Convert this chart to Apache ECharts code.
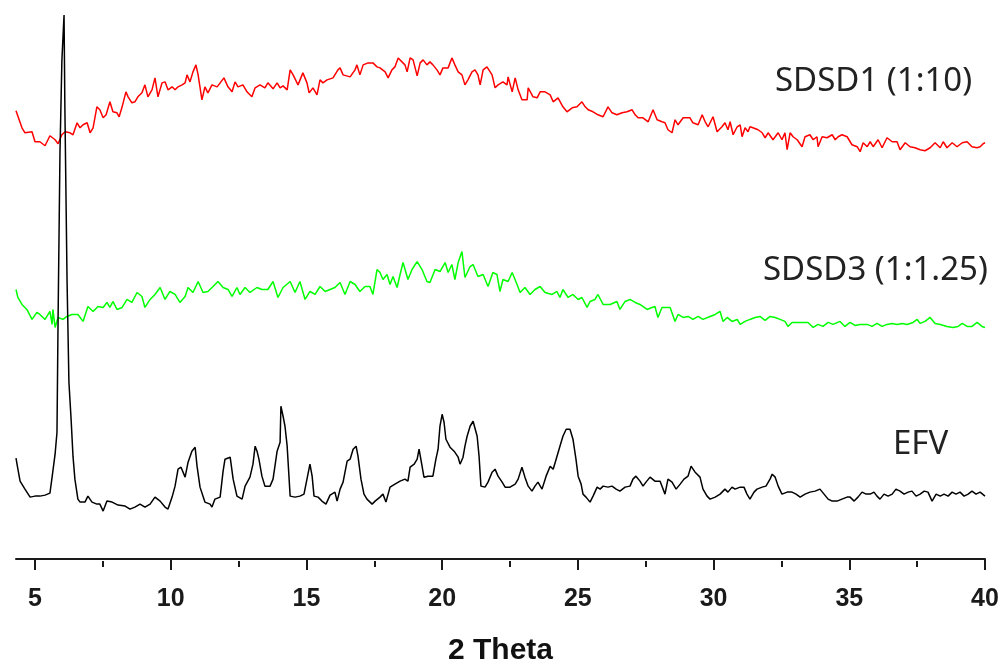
<!DOCTYPE html>
<html>
<head>
<meta charset="utf-8">
<script src="https://cdn.jsdelivr.net/npm/echarts@6/dist/echarts.min.js"></script>
<style>
html,body{margin:0;padding:0;background:#fff;}
#chart{width:1008px;height:671px;}
</style>
</head>
<body>
<div id="chart"></div>
<script>
// 2θ (degrees) and intensity (a.u., patterns offset-stacked as in the figure)
const efvData = [[4.30,101],[4.37,90],[4.45,78],[4.63,70],[4.82,62],[5.00,63],[5.18,63],[5.37,64],[5.55,66],[5.63,82],[5.74,105],[5.81,127],[5.85,240],[5.92,407],[5.99,499],[6.07,545],[6.10,454],[6.18,280],[6.25,177],[6.33,140],[6.40,103],[6.47,80],[6.58,60],[6.66,57],[6.84,57],[6.95,63],[7.10,57],[7.28,55],[7.39,55],[7.51,48],[7.65,58],[7.84,57],[8.06,54],[8.32,53],[8.50,50],[8.68,52],[8.87,55],[9.05,52],[9.24,55],[9.42,62],[9.61,58],[9.79,52],[9.90,50],[10.05,62],[10.16,73],[10.27,90],[10.38,92],[10.53,82],[10.64,97],[10.78,108],[10.90,112],[10.97,93],[11.08,72],[11.26,57],[11.45,55],[11.52,52],[11.63,60],[11.82,62],[11.93,88],[12.00,100],[12.19,102],[12.30,80],[12.44,63],[12.63,60],[12.74,73],[12.92,82],[13.03,95],[13.11,113],[13.18,108],[13.25,100],[13.36,83],[13.47,73],[13.66,73],[13.77,80],[13.84,93],[13.92,108],[14.03,117],[14.06,153],[14.14,143],[14.21,133],[14.29,113],[14.40,63],[14.58,62],[14.76,63],[14.91,65],[15.02,80],[15.13,95],[15.21,83],[15.28,63],[15.43,62],[15.57,58],[15.72,55],[15.87,64],[16.05,67],[16.13,58],[16.24,70],[16.35,77],[16.50,98],[16.61,100],[16.72,110],[16.83,113],[16.90,103],[17.01,80],[17.12,65],[17.23,60],[17.42,55],[17.53,58],[17.71,62],[17.82,65],[17.93,57],[18.08,72],[18.26,75],[18.45,78],[18.63,80],[18.74,78],[18.82,92],[18.97,95],[19.08,100],[19.15,110],[19.26,93],[19.33,82],[19.48,83],[19.66,83],[19.77,100],[19.85,110],[19.92,133],[20.00,145],[20.07,137],[20.14,120],[20.29,112],[20.44,108],[20.59,102],[20.66,95],[20.77,102],[20.84,113],[20.92,123],[21.03,133],[21.14,138],[21.21,138],[21.29,123],[21.36,103],[21.43,73],[21.58,72],[21.69,77],[21.84,87],[21.95,90],[22.06,83],[22.21,77],[22.32,72],[22.50,72],[22.69,75],[22.80,80],[22.94,92],[23.05,82],[23.17,73],[23.31,68],[23.42,73],[23.53,77],[23.68,70],[23.83,83],[23.98,93],[24.09,90],[24.20,100],[24.34,113],[24.45,123],[24.57,130],[24.71,130],[24.82,120],[24.93,100],[25.01,83],[25.12,75],[25.19,65],[25.30,62],[25.45,57],[25.56,63],[25.71,72],[25.82,70],[25.93,73],[26.11,72],[26.26,73],[26.41,70],[26.55,68],[26.74,72],[26.92,73],[27.03,80],[27.14,83],[27.29,78],[27.40,73],[27.51,77],[27.66,82],[27.84,78],[28.03,78],[28.21,65],[28.32,80],[28.47,77],[28.62,70],[28.77,75],[28.91,80],[29.06,83],[29.17,93],[29.32,87],[29.50,82],[29.61,70],[29.76,63],[29.87,60],[30.06,62],[30.24,65],[30.42,70],[30.53,67],[30.68,72],[30.79,70],[30.98,72],[31.12,72],[31.23,65],[31.34,60],[31.49,67],[31.60,70],[31.79,72],[31.93,73],[32.08,80],[32.16,85],[32.27,82],[32.38,73],[32.52,65],[32.71,67],[32.89,67],[33.04,65],[33.19,62],[33.37,65],[33.55,67],[33.74,68],[33.92,70],[34.07,65],[34.22,60],[34.37,58],[34.55,58],[34.73,60],[34.92,62],[35.03,62],[35.18,58],[35.32,62],[35.47,67],[35.62,65],[35.77,65],[35.91,67],[36.02,63],[36.13,60],[36.28,65],[36.43,63],[36.58,65],[36.72,70],[36.87,68],[37.02,65],[37.17,67],[37.31,68],[37.46,63],[37.61,65],[37.76,68],[37.90,67],[38.05,58],[38.20,65],[38.35,63],[38.49,65],[38.64,63],[38.79,67],[38.93,65],[39.08,67],[39.23,63],[39.38,65],[39.52,68],[39.67,65],[39.82,67],[40.00,63]];

const sdsd3Data = [[4.30,270],[4.37,262],[4.52,255],[4.70,250],[4.89,240],[5.07,247],[5.18,245],[5.37,240],[5.55,248],[5.63,235],[5.66,250],[5.74,232],[5.85,242],[6.03,240],[6.18,243],[6.36,245],[6.58,245],[6.77,238],[6.95,253],[7.14,248],[7.32,253],[7.51,252],[7.65,257],[7.76,252],[7.87,258],[8.02,250],[8.21,252],[8.39,260],[8.57,257],[8.76,267],[8.94,263],[9.05,252],[9.24,260],[9.42,265],[9.61,272],[9.79,260],[9.97,268],[10.16,265],[10.34,257],[10.53,263],[10.64,272],[10.82,267],[11.01,278],[11.19,267],[11.37,268],[11.56,273],[11.74,278],[11.93,272],[12.11,270],[12.26,263],[12.44,272],[12.55,265],[12.74,272],[12.92,267],[13.18,272],[13.36,270],[13.58,270],[13.77,278],[13.95,262],[14.14,272],[14.40,278],[14.58,267],[14.76,278],[14.95,260],[15.13,268],[15.32,265],[15.50,273],[15.69,268],[15.87,270],[16.05,272],[16.24,277],[16.42,265],[16.61,278],[16.79,275],[16.97,268],[17.16,273],[17.34,273],[17.45,265],[17.60,290],[17.71,287],[17.82,280],[17.97,285],[18.08,275],[18.19,283],[18.34,272],[18.45,285],[18.56,297],[18.74,280],[18.89,290],[19.08,298],[19.26,290],[19.44,278],[19.55,277],[19.74,290],[19.92,288],[20.11,297],[20.22,287],[20.36,295],[20.47,280],[20.59,297],[20.73,308],[20.77,310],[20.84,282],[21.03,293],[21.14,295],[21.32,283],[21.51,285],[21.69,273],[21.87,287],[22.02,285],[22.13,268],[22.24,280],[22.43,278],[22.58,287],[22.76,275],[22.87,267],[23.05,272],[23.24,265],[23.42,270],[23.61,273],[23.79,267],[24.05,265],[24.23,268],[24.34,262],[24.45,270],[24.64,262],[24.82,265],[25.01,260],[25.15,262],[25.34,252],[25.45,258],[25.63,260],[25.74,265],[25.93,255],[26.19,255],[26.44,258],[26.55,250],[26.74,258],[26.92,260],[27.11,257],[27.29,255],[27.55,250],[27.73,252],[27.84,253],[27.95,242],[28.10,252],[28.29,252],[28.40,252],[28.58,238],[28.69,245],[28.88,242],[29.06,243],[29.24,240],[29.43,243],[29.61,240],[29.87,243],[30.06,245],[30.24,248],[30.35,238],[30.50,242],[30.68,238],[30.87,240],[30.98,235],[31.16,238],[31.34,240],[31.53,242],[31.71,243],[31.90,239],[32.08,243],[32.27,242],[32.45,240],[32.63,238],[32.74,233],[32.89,237],[33.08,237],[33.30,237],[33.48,237],[33.67,232],[33.85,235],[34.03,233],[34.22,237],[34.40,235],[34.66,238],[34.84,233],[35.03,237],[35.21,234],[35.40,235],[35.66,235],[35.84,233],[36.02,236],[36.21,233],[36.39,235],[36.58,236],[36.76,235],[36.95,236],[37.13,235],[37.35,237],[37.50,240],[37.61,236],[37.79,238],[37.98,242],[38.16,236],[38.35,235],[38.60,233],[38.82,232],[39.01,233],[39.16,236],[39.34,233],[39.52,233],[39.71,237],[39.89,233],[40.00,232]];

const sdsd1Data = [[4.30,449],[4.37,447],[4.52,432],[4.63,427],[4.89,428],[5.00,418],[5.18,418],[5.37,414],[5.55,424],[5.74,420],[5.85,416],[5.99,425],[6.11,428],[6.29,427],[6.40,425],[6.55,437],[6.66,432],[6.77,435],[6.92,437],[7.03,427],[7.14,432],[7.28,453],[7.39,450],[7.51,442],[7.62,445],[7.76,458],[7.87,448],[8.02,447],[8.10,443],[8.21,453],[8.35,468],[8.43,463],[8.57,457],[8.68,458],[8.79,463],[8.94,467],[9.05,475],[9.16,463],[9.31,470],[9.42,482],[9.53,463],[9.68,477],[9.79,478],[9.90,470],[10.05,473],[10.16,470],[10.27,473],[10.42,475],[10.53,477],[10.60,485],[10.71,478],[10.82,488],[10.93,495],[11.01,485],[11.15,460],[11.26,473],[11.37,467],[11.52,475],[11.71,473],[11.96,482],[12.11,473],[12.26,468],[12.37,478],[12.48,473],[12.66,475],[12.81,468],[12.99,463],[13.11,472],[13.29,475],[13.47,472],[13.58,477],[13.77,471],[13.92,477],[14.03,472],[14.14,474],[14.29,470],[14.40,490],[14.51,485],[14.69,475],[14.87,487],[15.02,477],[15.10,467],[15.24,472],[15.39,465],[15.50,480],[15.61,477],[15.76,480],[15.98,482],[16.16,490],[16.24,492],[16.35,485],[16.61,483],[16.79,490],[16.86,495],[16.97,485],[17.09,495],[17.27,497],[17.45,497],[17.60,493],[17.71,492],[17.90,488],[18.01,482],[18.15,490],[18.26,493],[18.38,502],[18.52,498],[18.63,495],[18.71,488],[18.82,502],[18.93,500],[19.08,484],[19.19,497],[19.30,500],[19.44,495],[19.55,498],[19.66,495],[19.81,490],[19.92,485],[20.03,492],[20.22,492],[20.36,502],[20.47,495],[20.59,488],[20.73,485],[20.84,475],[20.95,480],[21.10,488],[21.21,490],[21.32,485],[21.40,475],[21.51,490],[21.65,493],[21.84,485],[21.95,472],[22.06,475],[22.24,478],[22.39,475],[22.43,483],[22.58,468],[22.69,482],[22.80,470],[22.94,460],[23.13,460],[23.17,472],[23.35,463],[23.50,462],[23.61,468],[23.79,468],[23.98,465],[24.09,458],[24.27,462],[24.45,453],[24.60,448],[24.79,452],[24.97,453],[25.15,458],[25.27,453],[25.38,450],[25.56,448],[25.74,445],[25.93,443],[26.11,453],[26.26,447],[26.44,445],[26.63,447],[26.81,448],[27.00,450],[27.11,445],[27.22,442],[27.40,442],[27.59,438],[27.77,450],[27.92,440],[28.10,438],[28.21,437],[28.32,430],[28.47,427],[28.58,440],[28.69,435],[28.88,442],[29.13,442],[29.24,437],[29.43,435],[29.58,445],[29.69,438],[29.80,433],[29.98,443],[30.13,428],[30.31,433],[30.42,437],[30.53,430],[30.61,438],[30.72,425],[30.87,433],[30.98,435],[31.05,423],[31.16,432],[31.27,428],[31.34,433],[31.45,432],[31.64,430],[31.79,427],[31.90,422],[32.01,427],[32.19,420],[32.38,427],[32.52,420],[32.63,427],[32.71,410],[32.82,427],[32.93,423],[33.08,420],[33.26,413],[33.37,423],[33.55,425],[33.67,420],[33.81,423],[33.85,413],[34.00,423],[34.18,422],[34.37,425],[34.48,420],[34.59,423],[34.73,425],[34.92,423],[35.10,415],[35.29,413],[35.40,408],[35.51,417],[35.66,413],[35.77,418],[35.88,413],[36.06,420],[36.21,412],[36.39,422],[36.58,418],[36.76,418],[36.87,410],[37.06,417],[37.24,413],[37.42,412],[37.61,410],[37.79,409],[37.98,412],[38.16,417],[38.35,412],[38.46,418],[38.60,412],[38.79,417],[38.97,413],[39.16,417],[39.34,418],[39.52,413],[39.71,412],[39.82,413],[39.93,416],[40.00,417]];

const majorTicks = [5, 10, 15, 20, 25, 30, 35, 40];
const minorTicks = [7.5, 12.5, 17.5, 22.5, 27.5, 32.5, 37.5];
const seriesNames = ['SDSD1 (1:10)', 'SDSD3 (1:1.25)', 'EFV'];
const xTitle = '2 Theta';

const chart = echarts.init(document.getElementById('chart'), null, {renderer: 'canvas'});
const axisColor = '#1a1a1a';
const labelFont = '33px "Noto Sans"';

chart.setOption({
  animation: false,
  backgroundColor: '#ffffff',
  grid: {left: 16, right: 23, top: 0, bottom: 109, containLabel: false},
  xAxis: [{
    type: 'value', min: 4.3, max: 40, position: 'bottom',
    axisLine: {lineStyle: {color: axisColor, width: 2}},
    axisTick: {customValues: majorTicks, length: 11, lineStyle: {color: axisColor, width: 2}},
    axisLabel: {customValues: majorTicks, margin: 26, fontSize: 25, fontWeight: 'bold', color: axisColor, fontFamily: 'Liberation Sans'},
    splitLine: {show: false},
    name: xTitle, nameLocation: 'middle', nameGap: 75,
    nameTextStyle: {fontSize: 30, fontWeight: 'bold', color: '#111', fontFamily: 'Liberation Sans'}
  }, {
    type: 'value', min: 4.3, max: 40, position: 'bottom',
    axisLine: {show: false},
    axisTick: {customValues: minorTicks, length: 6, lineStyle: {color: axisColor, width: 2}},
    axisLabel: {show: false},
    splitLine: {show: false}
  }],
  yAxis: {type: 'value', min: -2, max: 560, show: false},
  series: [
    {name: seriesNames[0], type: 'line', data: sdsd1Data, showSymbol: false, lineStyle: {color: '#ff0000', width: 1.5}, z: 2},
    {name: seriesNames[1], type: 'line', data: sdsd3Data, showSymbol: false, lineStyle: {color: '#00ff00', width: 1.5}, z: 2},
    {name: seriesNames[2], type: 'line', data: efvData, showSymbol: false, lineStyle: {color: '#000000', width: 1.5}, z: 3}
  ],
  graphic: [
    {type: 'text', x: 775, y: 82, style: {text: seriesNames[0], font: labelFont, fill: '#222', verticalAlign: 'middle'}},
    {type: 'text', x: 763, y: 271, style: {text: seriesNames[1], font: labelFont, fill: '#222', verticalAlign: 'middle'}},
    {type: 'text', x: 893, y: 445, style: {text: seriesNames[2], font: labelFont, fill: '#222', verticalAlign: 'middle'}}
  ]
});
</script>
</body>
</html>
